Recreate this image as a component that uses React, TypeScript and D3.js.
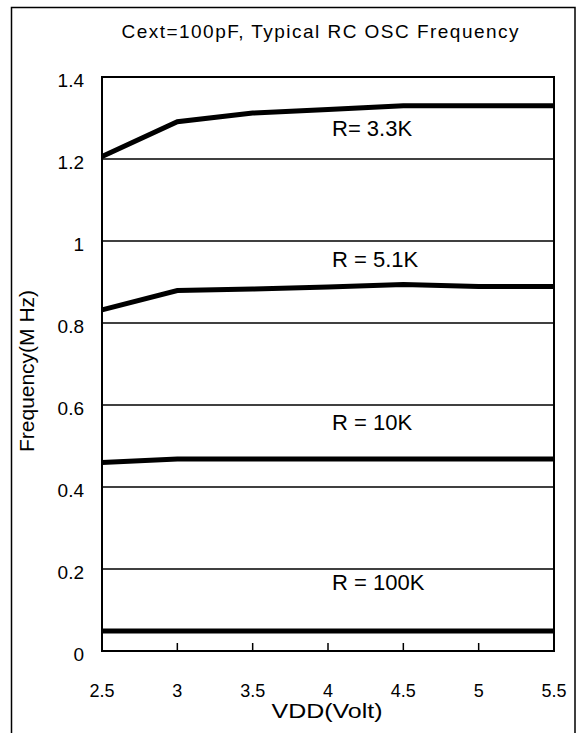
import React from "react";
import * as d3 from "d3";

const vdd = [2.5, 3, 3.5, 4, 4.5, 5, 5.5];
const r33k = [1.206, 1.291, 1.312, 1.321, 1.33, 1.33, 1.33];
const r51k = [0.832, 0.879, 0.883, 0.888, 0.894, 0.889, 0.889];
const r10k = [0.46, 0.468, 0.468, 0.468, 0.468, 0.468, 0.468];
const r100k = [0.049, 0.049, 0.049, 0.049, 0.049, 0.049, 0.049];
const seriesLabels = ["R= 3.3K", "R = 5.1K", "R = 10K", "R = 100K"];
const labelValues = [1.256, 0.937, 0.539, 0.149];
const yTicks = [0, 0.2, 0.4, 0.6, 0.8, 1, 1.2, 1.4];
const yTickLabels = ["0", "0.2", "0.4", "0.6", "0.8", "1", "1.2", "1.4"];
const xTicks = [2.5, 3, 3.5, 4, 4.5, 5, 5.5];
const xTickLabels = ["2.5", "3", "3.5", "4", "4.5", "5", "5.5"];
const title = "Cext=100pF, Typical RC OSC Frequency";
const xTitle = "VDD(Volt)";
const yTitle = "Frequency(M Hz)";

const W = 576;
const H = 733;
const left = 102;
const right = 554;
const top = 77;
const bottom = 651;
const FONT = "'Liberation Sans', Arial, sans-serif";

export default function App() {
  const x = d3.scaleLinear().domain([2.5, 5.5]).range([left, right]);
  const y = d3.scaleLinear().domain([0, 1.4]).range([bottom, top]);
  const series = [r33k, r51k, r10k, r100k];
  const line = d3
    .line<number>()
    .x((_, i) => x(vdd[i]))
    .y((d) => y(d));

  return (
    <svg
      width={W}
      height={H}
      style={{ position: "absolute", left: 0, top: 0, background: "#fff" }}
      fontFamily={FONT}
    >
      <rect x={0} y={0} width={W} height={H} fill="#fff" />
      {/* outer frame */}
      <path d={`M11.5,${H} L11.5,7.5 L575,7.5 L575,${H}`} fill="none" stroke="#000" strokeWidth={1.5} />

      <text
        x={320}
        y={38}
        textAnchor="middle"
        fontSize={19}
        fontFamily="'Liberation Sans Narrow', 'Arial Narrow', 'Liberation Sans', Arial, sans-serif"
        textLength={397}
        lengthAdjust="spacing"
      >
        {title}
      </text>

      {/* gridlines */}
      {yTicks.map((t) => (
        <line key={"g" + t} x1={left} x2={right} y1={y(t)} y2={y(t)} stroke="#000" strokeWidth={1.3} />
      ))}

      {/* x ticks */}
      {xTicks.map((t) => (
        <line key={"xt" + t} x1={x(t)} x2={x(t)} y1={bottom} y2={bottom - 8} stroke="#000" strokeWidth={1.5} />
      ))}

      {/* series */}
      {series.map((s, i) => (
        <path key={"s" + i} d={line(s) || ""} fill="none" stroke="#000" strokeWidth={5} strokeLinejoin="miter" />
      ))}

      {/* plot border */}
      <rect x={left} y={top} width={right - left} height={bottom - top} fill="none" stroke="#000" strokeWidth={2} />

      {/* series labels */}
      {seriesLabels.map((l, i) => (
        <text key={"l" + i} x={x(4) + 4} y={y(labelValues[i])} fontSize={22}>
          {l}
        </text>
      ))}

      {/* y tick labels */}
      {yTicks.map((t, i) => (
        <text key={"yl" + t} x={84} y={y(t) + 10} textAnchor="end" fontSize={19}>
          {yTickLabels[i]}
        </text>
      ))}

      {/* x tick labels */}
      {xTicks.map((t, i) => (
        <text key={"xl" + t} x={x(t)} y={697} textAnchor="middle" fontSize={18}>
          {xTickLabels[i]}
        </text>
      ))}

      <text x={327} y={718} textAnchor="middle" fontSize={20} textLength={111} lengthAdjust="spacingAndGlyphs">
        {xTitle}
      </text>

      <text
        transform={`translate(34, 371) rotate(-90)`}
        textAnchor="middle"
        fontSize={21}
        textLength={162}
        lengthAdjust="spacingAndGlyphs"
      >
        {yTitle}
      </text>
    </svg>
  );
}
